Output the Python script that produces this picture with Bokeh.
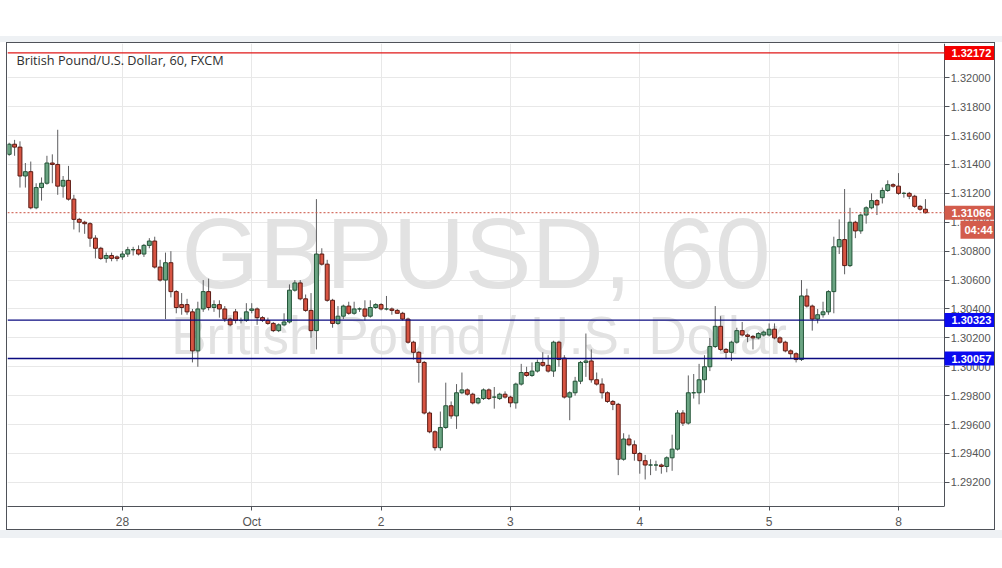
from bokeh.plotting import figure
from bokeh.models import (Range1d, FixedTicker, Span, Label, PrintfTickFormatter,
                          ColumnDataSource, Spacer, BoxAnnotation)
from bokeh.layouts import column, row
from bokeh.embed import file_html
from bokeh.resources import INLINE

# ---------------- data (GBPUSD, 60 min, FXCM) ----------------
opens = [1.3147, 1.3154, 1.3152, 1.3132, 1.3135, 1.3110, 1.3124, 1.3127, 1.3141, 1.3140,
         1.3125, 1.3129, 1.3116, 1.3102, 1.3100, 1.3099, 1.3089, 1.3082, 1.3075, 1.3077,
         1.3076, 1.3076, 1.3078, 1.3081, 1.3081, 1.3078, 1.3084, 1.3087, 1.3069, 1.3060,
         1.3072, 1.3052, 1.3043, 1.3043, 1.3038, 1.3011, 1.3040, 1.3052, 1.3041, 1.3043,
         1.3040, 1.3033, 1.3038, 1.3032, 1.3032, 1.3039, 1.3040, 1.3034, 1.3032, 1.3030,
         1.3025, 1.3029, 1.3031, 1.3053, 1.3058, 1.3047, 1.3039, 1.3025, 1.3078, 1.3071,
         1.3046, 1.3030, 1.3035, 1.3042, 1.3037, 1.3040, 1.3040, 1.3035, 1.3041, 1.3043,
         1.3040, 1.3040, 1.3039, 1.3037, 1.3033, 1.3017, 1.3010, 1.3003, 1.2968, 1.2955,
         1.2944, 1.2958, 1.2973, 1.2966, 1.2982, 1.2984, 1.2981, 1.2975, 1.2978, 1.2984,
         1.2979, 1.2978, 1.2981, 1.2979, 1.2975, 1.2988, 1.2996, 1.2994, 1.2997, 1.3003,
         1.3001, 1.2997, 1.3017, 1.3006, 1.2979, 1.2982, 1.2990, 1.3003, 1.3004, 1.2991,
         1.2988, 1.2982, 1.2976, 1.2974, 1.2936, 1.2950, 1.2946, 1.2940, 1.2935, 1.2932,
         1.2932, 1.2932, 1.2931, 1.2937, 1.2943, 1.2968, 1.2961, 1.2982, 1.2982, 1.2991,
         1.3000, 1.3014, 1.3028, 1.3012, 1.3010, 1.3017, 1.3025, 1.3022, 1.3021, 1.3020,
         1.3022, 1.3022, 1.3026, 1.3020, 1.3017, 1.3011, 1.3009, 1.3005, 1.3049, 1.3042,
         1.3033, 1.3036, 1.3038, 1.3052, 1.3083, 1.3088, 1.3070, 1.3100, 1.3094, 1.3105,
         1.3110, 1.3115, 1.3117, 1.3122, 1.3126, 1.3125, 1.3120, 1.3120, 1.3118, 1.3111,
         1.3109]
highs = [1.3155, 1.3157, 1.3156, 1.3141, 1.3142, 1.3127, 1.3131, 1.3146, 1.3147, 1.3164,
         1.3132, 1.3139, 1.3119, 1.3103, 1.3101, 1.3100, 1.3091, 1.3083, 1.3079, 1.3079,
         1.3077, 1.3080, 1.3083, 1.3083, 1.3084, 1.3085, 1.3089, 1.3090, 1.3074, 1.3079,
         1.3080, 1.3053, 1.3051, 1.3047, 1.3040, 1.3045, 1.3060, 1.3061, 1.3046, 1.3046,
         1.3042, 1.3034, 1.3040, 1.3034, 1.3044, 1.3044, 1.3041, 1.3035, 1.3034, 1.3031,
         1.3030, 1.3037, 1.3057, 1.3060, 1.3060, 1.3050, 1.3051, 1.3116, 1.3082, 1.3074,
         1.3047, 1.3042, 1.3043, 1.3045, 1.3045, 1.3041, 1.3046, 1.3046, 1.3044, 1.3044,
         1.3049, 1.3041, 1.3040, 1.3038, 1.3034, 1.3018, 1.3011, 1.3004, 1.2969, 1.2956,
         1.2969, 1.2989, 1.2976, 1.2988, 1.2996, 1.2985, 1.2982, 1.2979, 1.2985, 1.2985,
         1.2986, 1.2982, 1.2983, 1.2980, 1.2989, 1.3002, 1.3000, 1.3003, 1.3005, 1.3010,
         1.3008, 1.3018, 1.3018, 1.3008, 1.2983, 1.2993, 1.3004, 1.3023, 1.3012, 1.2996,
         1.2992, 1.2983, 1.2977, 1.2975, 1.2954, 1.2953, 1.2949, 1.2941, 1.2939, 1.2936,
         1.2935, 1.2933, 1.2938, 1.2953, 1.2970, 1.2970, 1.2994, 1.2995, 1.3002, 1.3008,
         1.3020, 1.3042, 1.3035, 1.3013, 1.3018, 1.3027, 1.3031, 1.3023, 1.3022, 1.3024,
         1.3025, 1.3030, 1.3030, 1.3021, 1.3018, 1.3012, 1.3010, 1.3060, 1.3054, 1.3043,
         1.3040, 1.3045, 1.3053, 1.3090, 1.3102, 1.3123, 1.3110, 1.3101, 1.3106, 1.3111,
         1.3120, 1.3116, 1.3124, 1.3129, 1.3127, 1.3134, 1.3121, 1.3121, 1.3119, 1.3112,
         1.3116]
lows = [1.3146, 1.3146, 1.3124, 1.3124, 1.3109, 1.3109, 1.3115, 1.3126, 1.3127, 1.3119,
        1.3117, 1.3115, 1.3095, 1.3093, 1.3092, 1.3083, 1.3075, 1.3074, 1.3072, 1.3073,
        1.3073, 1.3074, 1.3076, 1.3077, 1.3077, 1.3076, 1.3082, 1.3068, 1.3059, 1.3033,
        1.3048, 1.3037, 1.3036, 1.3036, 1.3003, 1.3000, 1.3038, 1.3039, 1.3038, 1.3034,
        1.3031, 1.3028, 1.3030, 1.3030, 1.3031, 1.3037, 1.3029, 1.3031, 1.3029, 1.3024,
        1.3024, 1.3028, 1.3030, 1.3052, 1.3046, 1.3038, 1.3020, 1.3012, 1.3070, 1.3045,
        1.3027, 1.3029, 1.3033, 1.3036, 1.3036, 1.3038, 1.3032, 1.3034, 1.3040, 1.3039,
        1.3039, 1.3036, 1.3037, 1.3032, 1.3016, 1.3005, 1.2989, 1.2967, 1.2954, 1.2942,
        1.2942, 1.2957, 1.2964, 1.2957, 1.2981, 1.2980, 1.2974, 1.2974, 1.2977, 1.2977,
        1.2971, 1.2977, 1.2978, 1.2972, 1.2971, 1.2987, 1.2993, 1.2993, 1.2996, 1.3000,
        1.2996, 1.2993, 1.3000, 1.2978, 1.2963, 1.2980, 1.2988, 1.2993, 1.2989, 1.2987,
        1.2978, 1.2975, 1.2970, 1.2925, 1.2935, 1.2945, 1.2935, 1.2926, 1.2922, 1.2925,
        1.2928, 1.2926, 1.2927, 1.2928, 1.2942, 1.2959, 1.2960, 1.2978, 1.2974, 1.2982,
        1.2997, 1.3013, 1.3011, 1.3006, 1.3004, 1.3016, 1.3021, 1.3017, 1.3012, 1.3019,
        1.3021, 1.3021, 1.3019, 1.3016, 1.3010, 1.3006, 1.3003, 1.3004, 1.3041, 1.3025,
        1.3030, 1.3034, 1.3036, 1.3037, 1.3078, 1.3064, 1.3069, 1.3089, 1.3092, 1.3099,
        1.3109, 1.3105, 1.3113, 1.3121, 1.3124, 1.3119, 1.3117, 1.3116, 1.3110, 1.3108,
        1.3106]
closes = [1.3154, 1.3152, 1.3132, 1.3135, 1.3110, 1.3124, 1.3127, 1.3141, 1.3140, 1.3125,
          1.3129, 1.3116, 1.3102, 1.3100, 1.3099, 1.3089, 1.3082, 1.3075, 1.3077, 1.3075,
          1.3075, 1.3078, 1.3081, 1.3081, 1.3078, 1.3084, 1.3087, 1.3069, 1.3060, 1.3072,
          1.3052, 1.3041, 1.3041, 1.3038, 1.3011, 1.3040, 1.3052, 1.3041, 1.3043, 1.3040,
          1.3033, 1.3029, 1.3032, 1.3032, 1.3038, 1.3040, 1.3034, 1.3032, 1.3030, 1.3025,
          1.3029, 1.3031, 1.3053, 1.3058, 1.3047, 1.3039, 1.3025, 1.3078, 1.3071, 1.3046,
          1.3030, 1.3035, 1.3042, 1.3037, 1.3040, 1.3040, 1.3035, 1.3041, 1.3043, 1.3040,
          1.3040, 1.3039, 1.3037, 1.3033, 1.3017, 1.3010, 1.3003, 1.2968, 1.2955, 1.2944,
          1.2958, 1.2973, 1.2966, 1.2982, 1.2984, 1.2981, 1.2975, 1.2978, 1.2984, 1.2978,
          1.2979, 1.2981, 1.2979, 1.2975, 1.2988, 1.2996, 1.2994, 1.2997, 1.3003, 1.3001,
          1.2997, 1.3017, 1.3005, 1.2979, 1.2982, 1.2990, 1.3003, 1.3004, 1.2991, 1.2988,
          1.2982, 1.2976, 1.2974, 1.2936, 1.2950, 1.2946, 1.2940, 1.2935, 1.2932, 1.2932,
          1.2932, 1.2931, 1.2937, 1.2943, 1.2968, 1.2961, 1.2982, 1.2982, 1.2991, 1.3000,
          1.3014, 1.3028, 1.3012, 1.3010, 1.3017, 1.3025, 1.3022, 1.3021, 1.3020, 1.3023,
          1.3024, 1.3026, 1.3020, 1.3017, 1.3011, 1.3009, 1.3005, 1.3049, 1.3042, 1.3033,
          1.3036, 1.3038, 1.3052, 1.3083, 1.3088, 1.3070, 1.3100, 1.3094, 1.3105, 1.3110,
          1.3115, 1.3112, 1.3122, 1.3126, 1.3125, 1.3120, 1.3120, 1.3118, 1.3111, 1.3109,
          1.31066]

day_ticks = [21, 45, 69, 93, 117, 141, 165]
day_labels = ["28", "Oct", "2", "3", "4", "5", "8"]
price_ticks = [1.292, 1.294, 1.296, 1.298, 1.300, 1.302, 1.304, 1.306, 1.308,
               1.310, 1.312, 1.314, 1.316, 1.318, 1.320]
red_level = 1.32172
blue_levels = [1.30323, 1.30057]
last_price = 1.31066
countdown = "04:44"
title_text = "British Pound/U.S. Dollar, 60, FXCM"
watermark_1 = "GBPUSD, 60"
watermark_2 = "British Pound / U.S. Dollar"

# ---------------- styling / layout ----------------
UP_FILL, UP_LINE = "#6ba583", "#225437"
DN_FILL, DN_LINE = "#d75442", "#5b1a13"
WICK = "#5e5e60"
AXIS = "#4f5259"
LABEL = "#555555"
GRID = "#e8e8e8"
PAGE_BAND = "#eef1f4"

PX_PER_BAR = 5.3897          # horizontal scale
FRAME_W = 989                # whole canvas width is plot frame
AXIS_PX = 937                # price scale line, pixels from frame left
X0 = -0.315
X1 = X0 + FRAME_W / PX_PER_BAR
X_AXIS = X0 + AXIS_PX / PX_PER_BAR
Y0, Y1 = 1.29033, 1.32237

idx = list(range(len(opens)))
up = [c >= o for o, c in zip(opens, closes)]
src = ColumnDataSource(dict(
    x=idx, high=highs, low=lows,
    top=[max(o, c) for o, c in zip(opens, closes)],
    bottom=[min(o, c) for o, c in zip(opens, closes)],
    fill=[UP_FILL if u else DN_FILL for u in up],
    line=[UP_LINE if u else DN_LINE for u in up],
))

p = figure(width=FRAME_W, height=488, output_backend="svg", toolbar_location=None,
           x_range=Range1d(X0, X1), y_range=Range1d(Y0, Y1),
           y_axis_location="left", x_axis_location="below",
           min_border_left=0, min_border_top=0, min_border_right=0, min_border_bottom=25)
p.styles = {"border": "1px solid #4f5259"}
p.outline_line_color = None
p.background_fill_color = "white"
p.border_fill_color = "white"

# bottom (time) axis
xa = p.xaxis[0]
xa.ticker = FixedTicker(ticks=day_ticks)
xa.major_label_overrides = {t: l for t, l in zip(day_ticks, day_labels)}
xa.bounds = (X0, X_AXIS)
xa.major_tick_out = 4
xa.major_label_standoff = 4
xa.major_label_text_font_size = "12px"

# price scale: placed at the right edge of the chart area, labels to its right
ya = p.yaxis[0]
ya.ticker = FixedTicker(ticks=price_ticks)
ya.formatter = PrintfTickFormatter(format="%.5f")
ya.fixed_location = X_AXIS
ya.major_tick_out = 0
ya.major_tick_in = 5
ya.major_label_standoff = -46
ya.major_label_text_font_size = "11px"

for ax in (xa, ya):
    ax.axis_line_color = AXIS
    ax.major_tick_line_color = AXIS
    ax.minor_tick_line_color = None
    ax.major_label_text_color = LABEL
    ax.major_label_text_font = "Liberation Sans"
xa.major_tick_in = 0

p.xgrid.grid_line_color = GRID
p.ygrid.grid_line_color = GRID
# blank out the grid behind the price scale
p.add_layout(BoxAnnotation(left=X_AXIS, fill_color="white", fill_alpha=1,
                           line_color=None, level="underlay"))

# watermark
WX = (X0 + X_AXIS) / 2
WY = (Y0 + Y1) / 2
p.add_layout(Label(x=WX, y=WY, y_offset=22, text=watermark_1,
                   text_align="center", text_baseline="alphabetic",
                   text_font="Liberation Sans", text_font_size="100px",
                   text_color="#e2e2e2", level="underlay"))
p.add_layout(Label(x=WX, y=WY, x_offset=3, y_offset=-60, text=watermark_2,
                   text_align="center", text_baseline="alphabetic",
                   text_font="Liberation Sans", text_font_size="53px",
                   text_color="#e2e2e2", level="underlay"))

# candles
p.segment(x0="x", y0="low", x1="x", y1="high", source=src, line_color=WICK, line_width=1)
p.vbar(x="x", width=0.72, top="top", bottom="bottom", source=src,
       fill_color="fill", line_color="line", line_width=1)

# horizontal levels
p.add_layout(Span(location=red_level, dimension="width", line_color="#e01818", line_width=1.2))
for lv in blue_levels:
    p.add_layout(Span(location=lv, dimension="width", line_color="#0b0b80", line_width=1.4))
p.add_layout(Span(location=last_price, dimension="width", line_color="#c9503f",
                  line_width=1, line_dash="2 2"))

# title
p.add_layout(Label(x=X0, y=Y1, x_offset=9, y_offset=-16, text=title_text,
                   text_font="Open Sans", text_font_size="12.7px", text_color="#2e2e2e",
                   text_baseline="alphabetic"))

# price boxes on the scale  (padding: left, right, top, bottom)
def price_box(price, text, color, dx=0, dy=0, pad=(7, 20, 3, 3)):
    p.add_layout(Label(x=X_AXIS, y=price, x_offset=dx, y_offset=dy, text=text,
                       text_align="left", text_baseline="middle",
                       text_font="Liberation Sans", text_font_style="bold",
                       text_font_size="11px", text_color="white",
                       background_fill_color=color, padding=pad))

price_box(red_level, f"{red_level:.5f}", "#f40000")
for lv in blue_levels:
    price_box(lv, f"{lv:.5f}", "#0a0af0")
price_box(last_price, f"{last_price:.5f}", "#d35c4c")
price_box(last_price, countdown, "#d35c4c", dx=16, dy=-17, pad=(4, 20, 3, 3))

layout = column(
    Spacer(height=36, width=1002),
    Spacer(height=6, width=1002, styles={"background-color": PAGE_BAND}),
    row(Spacer(width=6), p),
    Spacer(height=8, width=1002, styles={"background-color": PAGE_BAND}),
)
open("out.html", "w").write(file_html(layout, INLINE))
